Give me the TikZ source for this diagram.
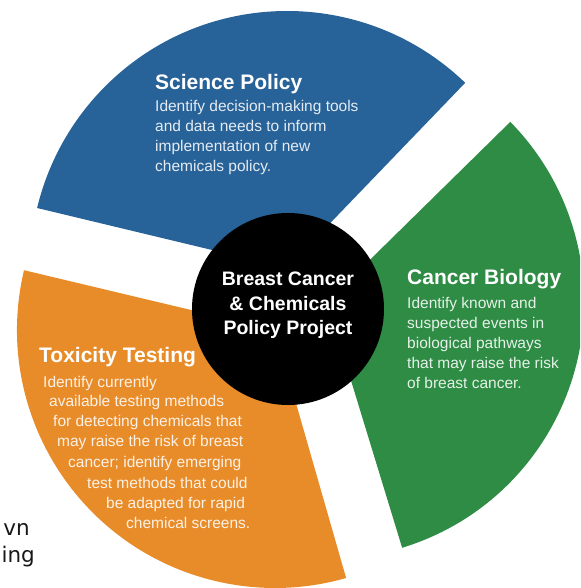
\documentclass[tikz,border=0pt]{standalone}
\usepackage{fontspec}
\setmainfont{Liberation Sans}
\newfontfamily\cutfont{DejaVu Sans}
\definecolor{policyblue}{RGB}{39,98,152}
\definecolor{biogreen}{RGB}{46,140,68}
\definecolor{toxorange}{RGB}{232,140,42}
\tikzset{
  head/.style={text=white, inner sep=0pt, font=\bfseries\fontsize{21}{24}\selectfont},
  body/.style={text=white, text opacity=.88, inner sep=0pt, align=left, font=\fontsize{15.5}{20}\selectfont},
  cut/.style={text=black!90, inner sep=0pt, anchor=base east, font=\cutfont\fontsize{21.5}{24}\selectfont}
}
\begin{document}
\begin{tikzpicture}[x=1pt,y=1pt]
	\clip (0,0) rectangle (580,588);
	
	\coordinate (blueapex) at (287,320); \coordinate (greenapex) at (327,286); \coordinate (orangeapex) at (275,258);
	
	% the three wedges
	\fill[policyblue] (blueapex) -- ++(46.1:257) arc (46.1:166.5:257) -- cycle;
	\fill[biogreen] (greenapex) -- ++(-73:257) arc (-73:44.5:257) -- cycle;
	\fill[toxorange] (orangeapex) -- ++(166.6:258) arc (166.6:286:258) -- cycle;
	
	\node[circle,fill=black,minimum size=192pt,inner sep=0pt] (hub) at (288,279) {};
	\node[anchor=north,align=center,text=white,inner sep=0pt,font=\bfseries\fontsize{19.5}{24.5}\selectfont] (hubtext) at (288,316) {Breast Cancer\\\& Chemicals\\Policy Project};
	
	\node[head,anchor=base west] (scihead) at (155,498) {Science Policy};
	\node[body,anchor=north west] (scibody) at (155,488.3) {Identify decision-making tools\\and data needs to inform\\implementation of new\\chemicals policy.};
	
	\node[head,anchor=base west] (biohead) at (407,303) {Cancer Biology};
	\node[body,anchor=north west] (biobody) at (407,291.3) {Identify known and\\suspected events in\\biological pathways\\that may raise the risk\\of breast cancer.};
	
	\node[head,anchor=base west] (toxhead) at (39,225) {Toxicity Testing};
	\foreach \x/\y/\t [count=\i] in {43/200/{Identify currently}, 49/181/{available testing methods}, 53/161/{for detecting chemicals that}, 57/141/{may raise the risk of breast}, 68/120/{cancer; identify emerging}, 87/99/{test methods that could}, 106/79/{be adapted for rapid}, 126/59/{chemical screens.}}
		\node[body,anchor=base west] (toxline\i) at (\x,\y) {\t};
	
	%cut-off words at the page edge
	\node[cut] (cutone) at (30,52) {vn};
	\node[cut] (cuttwo) at (35,25) {ing};
\end{tikzpicture}
\end{document}
